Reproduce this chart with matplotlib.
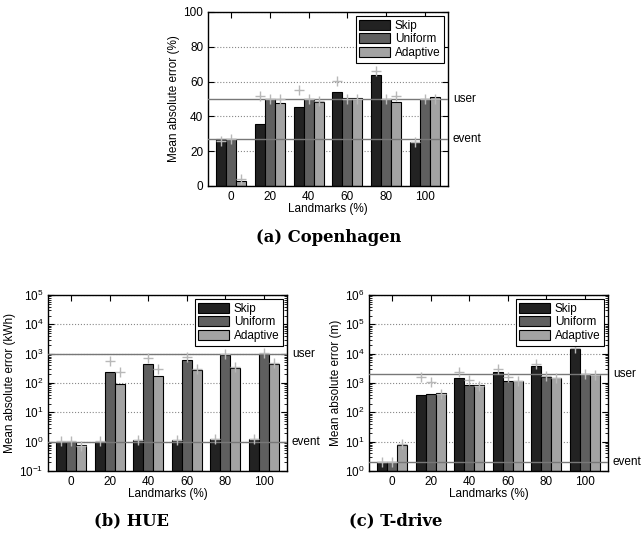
import matplotlib
matplotlib.use("Agg")
import matplotlib.pyplot as plt
import matplotlib.transforms as mtransforms
from matplotlib.ticker import LogLocator, NullFormatter
import numpy as np

plt.rcParams['font.family'] = ['Liberation Sans', 'DejaVu Sans']
plt.rcParams['mathtext.fontset'] = 'custom'
plt.rcParams['mathtext.rm'] = 'Liberation Sans'
plt.rcParams['mathtext.it'] = 'Liberation Sans'

landmarks = ['0', '20', '40', '60', '80', '100']
series = ['Skip', 'Uniform', 'Adaptive']
colors = ['#222222', '#5f5f5f', '#a3a3a3']

# (a) Copenhagen
cph_bars = {
    'Skip':     [26.8, 35.4, 45.4, 54.2, 63.8, 25.5],
    'Uniform':  [27.0, 49.8, 49.8, 50.4, 50.0, 50.0],
    'Adaptive': [2.9, 47.5, 48.0, 50.8, 48.0, 51.3],
}
cph_plus = {
    'Skip':     [26.0, 52.0, 55.0, 60.3, 66.3, 25.5],
    'Uniform':  [27.0, 50.0, 50.0, 50.0, 50.0, 50.0],
    'Adaptive': [4.0, 50.0, 49.0, 50.0, 52.0, 50.0],
}
cph_user, cph_event = 50, 27

# (b) HUE
hue_bars = {
    'Skip':     [1.0, 1.0, 1.1, 1.14, 1.24, 1.2],
    'Uniform':  [1.0, 233, 440, 620, 880, 1000],
    'Adaptive': [0.75, 92, 174, 267, 337, 428],
}
hue_plus = {
    'Skip':     [1.07, 1.07, 1.17, 1.17, 1.27, 1.27],
    'Uniform':  [1.07, 570, 710, 770, 1000, 1070],
    'Adaptive': [0.71, 233, 295, 303, 365, 475],
}
hue_user, hue_event = 1000, 1.0

# (c) T-drive
td_bars = {
    'Skip':     [2.0, 380, 1440, 2440, 3800, 14800],
    'Uniform':  [2.1, 410, 830, 1200, 1650, 1990],
    'Adaptive': [7.7, 445, 830, 1200, 1520, 1870],
}
td_plus = {
    'Skip':     [2.1, 1590, 2300, 3080, 4570, 15500],
    'Uniform':  [2.1, 1080, 1300, 1600, 1780, 2000],
    'Adaptive': [8.6, 435, 770, 1140, 1480, 1900],
}
td_user, td_event = 2100, 2.0

FS = 8.5
W = 0.26

fig = plt.figure(figsize=(6.42, 5.44), dpi=100)

def draw(ax, bars, plus, user, event, ylabel, log, ylim):
    x = np.arange(len(landmarks))
    if log:
        ax.set_yscale('log')
    base = ylim[0] if log else 0
    for i, s in enumerate(series):
        off = (i - 1) * W
        vals = np.asarray(bars[s], dtype=float)
        ax.bar(x + off, vals - base, W, bottom=base, color=colors[i], edgecolor='black',
               linewidth=0.8, label=s, zorder=2)
        ax.plot(x + off, plus[s], linestyle='none', marker='+', color='#b8b8b8',
                markersize=7, markeredgewidth=1.0, zorder=4)
    ax.axhline(user, color='#777777', linewidth=1.0, zorder=3)
    ax.axhline(event, color='#777777', linewidth=1.0, zorder=3)
    tr = mtransforms.blended_transform_factory(ax.transAxes, ax.transData)
    ax.text(1.02, user, 'user', transform=tr, va='center', ha='left', fontsize=FS)
    ax.text(1.02, event, 'event', transform=tr, va='center', ha='left', fontsize=FS)
    ax.set_xlim(-0.6, 5.6)
    ax.set_ylim(*ylim)
    ax.set_xticks(x)
    ax.set_xticklabels(landmarks)
    ax.set_xlabel('Landmarks (%)', fontsize=FS, labelpad=0)
    ax.set_ylabel(ylabel, fontsize=FS, labelpad=2)
    ax.yaxis.grid(True, which='major', linestyle=':', color='#888888', linewidth=0.8, zorder=1)
    ax.set_axisbelow(True)
    ax.tick_params(which='both', direction='in', top=True, right=True, labelsize=FS)
    ax.tick_params(which='major', length=4)
    ax.tick_params(which='minor', length=2)
    if log:
        ax.yaxis.set_major_locator(LogLocator(base=10, numticks=20))
        ax.yaxis.set_minor_locator(LogLocator(base=10, subs=np.arange(2, 10), numticks=100))
        ax.yaxis.set_minor_formatter(NullFormatter())
    for sp in ax.spines.values():
        sp.set_linewidth(1.0)
    leg = ax.legend(loc='upper right', fontsize=FS, fancybox=False, framealpha=1,
                    edgecolor='black', borderaxespad=0.35, handlelength=2.6,
                    handleheight=0.9, labelspacing=0.15, borderpad=0.3,
                    handletextpad=0.4)
    leg.get_frame().set_linewidth(0.8)

ax_a = fig.add_axes([208/642, 1 - 186/544, 240/642, 174/544])
draw(ax_a, cph_bars, cph_plus, cph_user, cph_event, 'Mean absolute error (%)', False, (0, 100))
ax_a.set_yticks([0, 20, 40, 60, 80, 100])

ax_b = fig.add_axes([48/642, 1 - 471/544, 239/642, 176/544])
draw(ax_b, hue_bars, hue_plus, hue_user, hue_event, 'Mean absolute error (kWh)', True, (0.1, 1e5))

ax_c = fig.add_axes([369/642, 1 - 471/544, 239/642, 176/544])
draw(ax_c, td_bars, td_plus, td_user, td_event, 'Mean absolute error (m)', True, (1, 1e6))

cap_kw = dict(fontsize=11.8, fontweight='bold', family=['DejaVu Serif'],
              ha='center', va='center')
fig.text(329/642, 1 - 238/544, '(a) Copenhagen', **cap_kw)
fig.text(132/642, 1 - 521/544, '(b) HUE', **cap_kw)
fig.text(396/642, 1 - 521/544, '(c) T-drive', **cap_kw)

fig.savefig('out.png', dpi=100)
